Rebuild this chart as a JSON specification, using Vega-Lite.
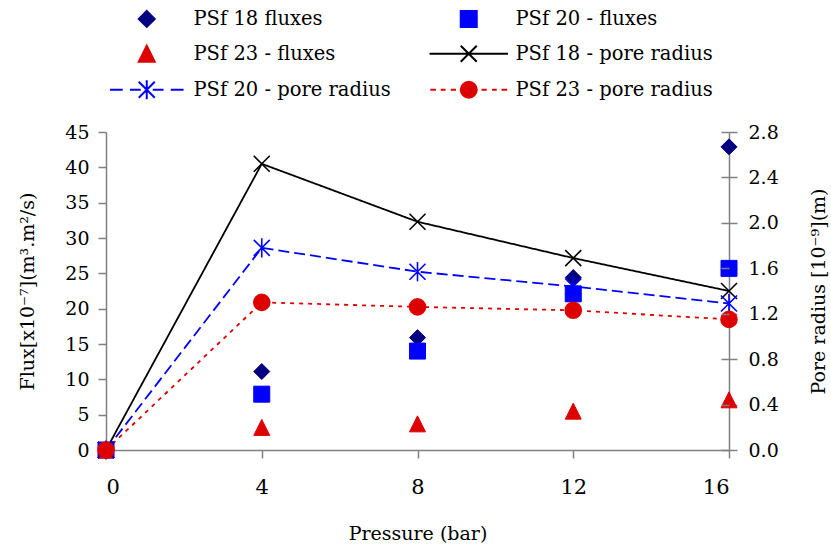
{
  "$schema": "https://vega.github.io/schema/vega-lite/v6.json",
  "width": 623,
  "height": 318,
  "autosize": {"type": "none"},
  "padding": {"left": 106, "top": 132, "right": 102, "bottom": 98},
  "background": "white",
  "config": {
    "view": {"stroke": null},
    "font": "DejaVu Serif",
    "axis": {
      "labelFont": "DejaVu Serif",
      "titleFont": "DejaVu Serif",
      "labelColor": "black",
      "titleColor": "black",
      "domainColor": "#808080",
      "tickColor": "#808080",
      "domainWidth": 1.5,
      "tickWidth": 1.5,
      "grid": false,
      "titleFontWeight": "normal",
      "labelFontSize": 19,
      "titleFontSize": 19,
      "tickSize": 8
    },
    "legend": {
      "labelFont": "DejaVu Serif",
      "labelFontSize": 19.5,
      "labelColor": "black",
      "symbolSize": 256,
      "symbolStrokeWidth": 2,
      "symbolOpacity": 1,
      "columns": 2,
      "columnPadding": 34,
      "rowPadding": 10,
      "labelOffset": 37,
      "padding": 0,
      "labelLimit": 400
    }
  },
  "datasets": {
    "flux": [
      {"pressure": 0, "value": 0, "series": "PSf 18 fluxes"},
      {"pressure": 4, "value": 11.1, "series": "PSf 18 fluxes"},
      {"pressure": 8, "value": 15.9, "series": "PSf 18 fluxes"},
      {"pressure": 12, "value": 24.4, "series": "PSf 18 fluxes"},
      {"pressure": 16, "value": 42.9, "series": "PSf 18 fluxes"},
      {"pressure": 0, "value": 0, "series": "PSf 20 - fluxes"},
      {"pressure": 4, "value": 7.9, "series": "PSf 20 - fluxes"},
      {"pressure": 8, "value": 14.0, "series": "PSf 20 - fluxes"},
      {"pressure": 12, "value": 22.1, "series": "PSf 20 - fluxes"},
      {"pressure": 16, "value": 25.7, "series": "PSf 20 - fluxes"},
      {"pressure": 0, "value": 0, "series": "PSf 23 - fluxes"},
      {"pressure": 4, "value": 3.2, "series": "PSf 23 - fluxes"},
      {"pressure": 8, "value": 3.7, "series": "PSf 23 - fluxes"},
      {"pressure": 12, "value": 5.5, "series": "PSf 23 - fluxes"},
      {"pressure": 16, "value": 7.1, "series": "PSf 23 - fluxes"}
    ],
    "pore": [
      {"pressure": 0, "value": 0, "series": "PSf 18 - pore radius"},
      {"pressure": 4, "value": 2.52, "series": "PSf 18 - pore radius"},
      {"pressure": 8, "value": 2.01, "series": "PSf 18 - pore radius"},
      {"pressure": 12, "value": 1.69, "series": "PSf 18 - pore radius"},
      {"pressure": 16, "value": 1.40, "series": "PSf 18 - pore radius"},
      {"pressure": 0, "value": 0, "series": "PSf 20 - pore radius"},
      {"pressure": 4, "value": 1.78, "series": "PSf 20 - pore radius"},
      {"pressure": 8, "value": 1.57, "series": "PSf 20 - pore radius"},
      {"pressure": 12, "value": 1.44, "series": "PSf 20 - pore radius"},
      {"pressure": 16, "value": 1.29, "series": "PSf 20 - pore radius"},
      {"pressure": 0, "value": 0, "series": "PSf 23 - pore radius"},
      {"pressure": 4, "value": 1.30, "series": "PSf 23 - pore radius"},
      {"pressure": 8, "value": 1.26, "series": "PSf 23 - pore radius"},
      {"pressure": 12, "value": 1.23, "series": "PSf 23 - pore radius"},
      {"pressure": 16, "value": 1.15, "series": "PSf 23 - pore radius"}
    ]
  },
  "encoding": {
    "x": {
      "field": "pressure",
      "type": "quantitative",
      "scale": {"domain": [0, 16], "nice": false},
      "axis": {
        "values": [0, 4, 8, 12, 16],
        "labelFontSize": 21,
        "labelPadding": 18,
        "title": "Pressure (bar)",
        "titlePadding": 27
      }
    }
  },
  "layer": [
    {
      "data": {"name": "flux"},
      "transform": [{"filter": "false"}],
      "mark": {"type": "point", "opacity": 1},
      "encoding": {
        "y": {"field": "value", "type": "quantitative", "scale": {"domain": [0, 45], "nice": false}, "axis": null},
        "shape": {
          "field": "series",
          "type": "nominal",
          "scale": {
            "domain": ["PSf 18 fluxes", "PSf 23 - fluxes", "PSf 20 - pore radius", "PSf 20 - fluxes", "PSf 18 - pore radius", "PSf 23 - pore radius"],
            "range": [
              "M0,-1L1,0L0,1L-1,0Z",
              "M0,-1L1,1L-1,1Z",
              "M-4.6,0H-3M-2.1,0H-0.75M0.75,0H2.1M3,0H4.6M-1,-1L1,1M-1,1L1,-1M0,-1.2V1.2",
              "M-1,-1H1V1H-1Z",
              "M-4.9,0H4.9M-1,-1L1,1M-1,1L1,-1",
              "M-4.8,0H-4.1M-3.5,0H-2.9M-2.25,0H-1.6M1.6,0H2.25M2.9,0H3.5M4.1,0H4.8M1,0A1,1,0,1,1,-1,0A1,1,0,1,1,1,0Z"
            ]
          },
          "legend": {"title": null, "orient": "none", "legendX": 31, "legendY": -123}
        },
        "fill": {
          "field": "series",
          "type": "nominal",
          "scale": {
            "domain": ["PSf 18 fluxes", "PSf 23 - fluxes", "PSf 20 - pore radius", "PSf 20 - fluxes", "PSf 18 - pore radius", "PSf 23 - pore radius"],
            "range": ["#000080", "#DD0000", "transparent", "#0000FF", "transparent", "#DD0000"]
          },
          "legend": {"title": null}
        },
        "stroke": {
          "field": "series",
          "type": "nominal",
          "scale": {
            "domain": ["PSf 18 fluxes", "PSf 23 - fluxes", "PSf 20 - pore radius", "PSf 20 - fluxes", "PSf 18 - pore radius", "PSf 23 - pore radius"],
            "range": ["#000080", "#DD0000", "#0000FF", "#0000FF", "#000000", "#DD0000"]
          },
          "legend": {"title": null}
        }
      }
    },
    {
      "data": {"name": "pore"},
      "mark": {"type": "line", "strokeWidth": 1.8},
      "encoding": {
        "y": {
          "field": "value",
          "type": "quantitative",
          "scale": {"domain": [0, 2.8], "nice": false},
          "axis": {
            "orient": "right",
            "values": [0, 0.4, 0.8, 1.2, 1.6, 2.0, 2.4, 2.8],
            "format": ".1f",
            "labelPadding": 11,
            "title": "Pore radius [10⁻⁹](m)",
            "titleAngle": 270,
            "titleBaseline": "top",
            "titlePadding": 31
          }
        },
        "stroke": {
          "field": "series",
          "type": "nominal",
          "scale": {
            "domain": ["PSf 18 - pore radius", "PSf 20 - pore radius", "PSf 23 - pore radius"],
            "range": ["#000000", "#0000FF", "#DD0000"]
          },
          "legend": null
        },
        "strokeDash": {
          "field": "series",
          "type": "nominal",
          "scale": {
            "domain": ["PSf 18 - pore radius", "PSf 20 - pore radius", "PSf 23 - pore radius"],
            "range": [[1, 0], [11, 5], [4, 5]]
          },
          "legend": null
        }
      }
    },
    {
      "data": {"name": "flux"},
      "mark": {"type": "point", "opacity": 1, "size": 256, "strokeWidth": 1},
      "encoding": {
        "y": {
          "field": "value",
          "type": "quantitative",
          "scale": {"domain": [0, 45], "nice": false},
          "axis": {
            "orient": "left",
            "values": [0, 5, 10, 15, 20, 25, 30, 35, 40, 45],
            "labelPadding": 9,
            "title": "Flux[x10⁻⁷](m³.m²/s)",
            "titlePadding": 27
          }
        },
        "shape": {
          "field": "series",
          "type": "nominal",
          "scale": {
            "domain": ["PSf 18 fluxes", "PSf 20 - fluxes", "PSf 23 - fluxes"],
            "range": ["diamond", "square", "M0,-1L1,1L-1,1Z"]
          },
          "legend": null
        },
        "fill": {
          "field": "series",
          "type": "nominal",
          "scale": {
            "domain": ["PSf 18 fluxes", "PSf 20 - fluxes", "PSf 23 - fluxes"],
            "range": ["#000080", "#0000FF", "#DD0000"]
          },
          "legend": null
        },
        "stroke": {
          "field": "series",
          "type": "nominal",
          "scale": {
            "domain": ["PSf 18 fluxes", "PSf 20 - fluxes", "PSf 23 - fluxes"],
            "range": ["#000080", "#0000FF", "#DD0000"]
          },
          "legend": null
        }
      }
    },
    {
      "data": {"name": "pore"},
      "mark": {"type": "point", "opacity": 1, "size": 256, "strokeWidth": 1.6},
      "encoding": {
        "y": {
          "field": "value",
          "type": "quantitative",
          "scale": {"domain": [0, 2.8], "nice": false},
          "axis": {
            "orient": "right",
            "values": [0, 0.4, 0.8, 1.2, 1.6, 2.0, 2.4, 2.8],
            "labels": false,
            "domain": false,
            "tickSize": -8,
            "title": null,
            "zindex": 1
          }
        },
        "shape": {
          "field": "series",
          "type": "nominal",
          "scale": {
            "domain": ["PSf 18 - pore radius", "PSf 20 - pore radius", "PSf 23 - pore radius"],
            "range": ["M-1,-1L1,1M-1,1L1,-1", "M-1,-1L1,1M-1,1L1,-1M0,-1.2V1.2", "circle"]
          },
          "legend": null
        },
        "fill": {
          "field": "series",
          "type": "nominal",
          "scale": {
            "domain": ["PSf 18 - pore radius", "PSf 20 - pore radius", "PSf 23 - pore radius"],
            "range": ["transparent", "transparent", "#DD0000"]
          },
          "legend": null
        },
        "stroke": {
          "field": "series",
          "type": "nominal",
          "scale": {
            "domain": ["PSf 18 - pore radius", "PSf 20 - pore radius", "PSf 23 - pore radius"],
            "range": ["#000000", "#0000FF", "#DD0000"]
          },
          "legend": null
        }
      }
    }
  ],
  "resolve": {
    "scale": {
      "y": "independent",
      "shape": "independent",
      "fill": "independent",
      "stroke": "independent",
      "strokeDash": "independent"
    }
  }
}
